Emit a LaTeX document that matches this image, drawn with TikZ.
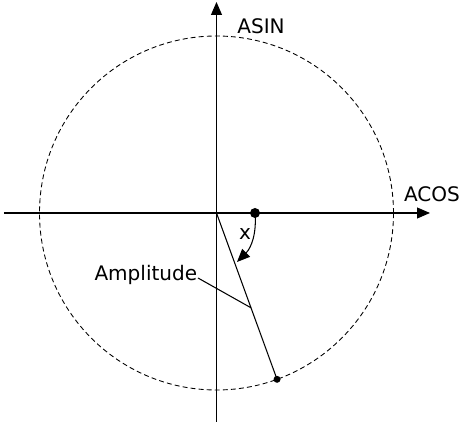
\documentclass[tikz,border=0pt]{standalone}
\usepackage{fontspec}
\setmainfont{DejaVu Sans}
\usetikzlibrary{arrows.meta,calc}

\begin{document}
\begin{tikzpicture}[x=0.02cm,y=0.02cm,
  axis/.style={line width=0.6pt,-{Triangle[length=0.26cm,width=0.22cm]}},
  lbl/.style={inner sep=0pt,font=\fontsize{11.4}{13}\selectfont}]
\useasboundingbox (-216.5,-212) rectangle (244.5,213);
% axes
\coordinate (O) at (0,0);
\coordinate (xl) at (-212.5,0);
\coordinate (xr) at (213.5,0);
\coordinate (yb) at (0,-209);
\coordinate (yt) at (0,211);
\draw[axis] (xl) -- (xr);
\draw[axis] (yb) -- (yt);
\node[lbl] (acos) at (215.5,19){ACOS};
\node[lbl,anchor=west] (asin) at (20.5,187){ASIN};
% unit circle
\draw[line width=0.5pt,dash pattern=on 2.8pt off 1.8pt] (O) circle (177);
% amplitude
\coordinate (P) at (-70:177);
\draw[line width=0.6pt] (O) -- (P);
\fill (P) circle (3.5);
\coordinate (foot) at ($(O)!0.57!(P)$);
\node[lbl,anchor=east] (amp) at (-19,-62){Amplitude};
\draw[line width=0.6pt] (-18.5,-65) -- (foot);
% angle x
\coordinate (A) at (38.5,0);
\coordinate (tip) at (20.5,-49);
\fill (A) circle (5);
\draw[line width=0.6pt,-{Triangle[length=0.26cm,width=0.22cm]}] (A) to[out=-85,in=45] (tip);
\node[lbl] (xang) at (28.5,-21){x};
\end{tikzpicture}
\end{document}
